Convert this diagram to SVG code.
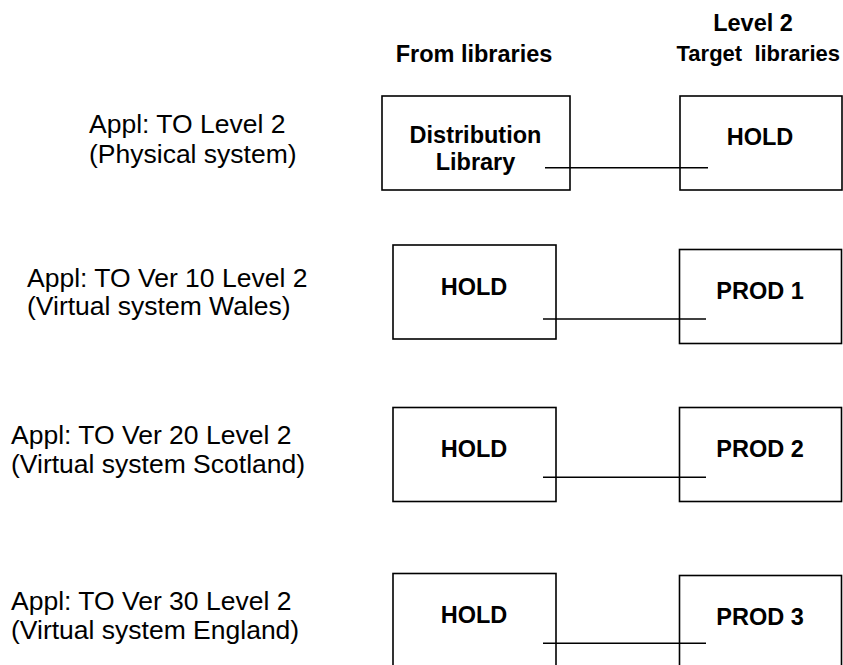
<svg xmlns="http://www.w3.org/2000/svg" width="843" height="665" viewBox="0 0 843 665">
<style>
.box{fill:#fff;stroke:#000;stroke-width:1.6}
.bt{font-family:"Liberation Sans",Arial,sans-serif;font-weight:bold;font-size:23.5px;fill:#000;text-anchor:middle}
.lt{font-family:"Liberation Sans",Arial,sans-serif;font-size:26.5px;fill:#000}
.conn line{stroke:#000;stroke-width:1.4}
</style>
<rect width="843" height="665" fill="#fff"/>
<g id="headers">
<text class="bt" x="474" y="62">From libraries</text>
<text class="bt" x="753" y="31">Level 2</text>
<text class="bt" x="840" y="61" style="text-anchor:end;font-size:22px" xml:space="preserve">Target  libraries</text>
</g>
<g id="label1"><text class="lt" x="89" y="133">Appl: TO Level 2</text><text class="lt" x="89" y="163">(Physical system)</text></g>
<g id="label2"><text class="lt" x="27" y="287">Appl: TO Ver 10 Level 2</text><text class="lt" x="27" y="315">(Virtual system Wales)</text></g>
<g id="label3"><text class="lt" x="11" y="444">Appl: TO Ver 20 Level 2</text><text class="lt" x="11" y="473">(Virtual system Scotland)</text></g>
<g id="label4"><text class="lt" x="11" y="610">Appl: TO Ver 30 Level 2</text><text class="lt" x="11" y="639">(Virtual system England)</text></g>
<g id="dist"><rect class="box" x="382" y="96" width="188" height="94"/><text class="bt" x="475.5" y="143">Distribution</text><text class="bt" x="475.5" y="170">Library</text></g>
<g id="hold0"><rect class="box" x="680" y="96" width="162" height="94"/><text class="bt" x="760" y="145">HOLD</text></g>
<g id="hold1"><rect class="box" x="393" y="245" width="163" height="94"/><text class="bt" x="474" y="295">HOLD</text></g>
<g id="prod1"><rect class="box" x="679.5" y="249.5" width="162" height="94"/><text class="bt" x="760" y="299">PROD 1</text></g>
<g id="hold2"><rect class="box" x="393" y="407.5" width="163" height="94"/><text class="bt" x="474" y="457">HOLD</text></g>
<g id="prod2"><rect class="box" x="679.5" y="407.5" width="162" height="94"/><text class="bt" x="760" y="457">PROD 2</text></g>
<g id="hold3"><rect class="box" x="393" y="573.5" width="163" height="100"/><text class="bt" x="474" y="623">HOLD</text></g>
<g id="prod3"><rect class="box" x="679.5" y="575.5" width="162" height="100"/><text class="bt" x="760" y="625">PROD 3</text></g>
<g class="conn" id="connectors">
<line x1="545" y1="167.7" x2="708" y2="167.7"/>
<line x1="543" y1="319" x2="706" y2="319"/>
<line x1="543" y1="477.3" x2="706" y2="477.3"/>
<line x1="543" y1="643.3" x2="706" y2="643.3"/>
</g>
</svg>
